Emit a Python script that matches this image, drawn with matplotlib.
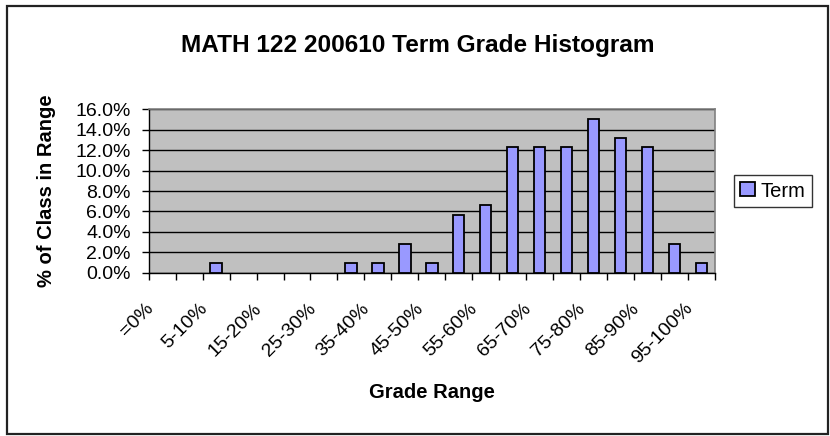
import matplotlib
matplotlib.use("Agg")
import matplotlib.pyplot as plt
from matplotlib.transforms import ScaledTranslation
from matplotlib.patches import Rectangle, Patch

plt.rcParams['font.family'] = ['Liberation Sans', 'DejaVu Sans']

categories = ["=0%", "0-5%", "5-10%", "10-15%", "15-20%", "20-25%", "25-30%",
              "30-35%", "35-40%", "40-45%", "45-50%", "50-55%", "55-60%",
              "60-65%", "65-70%", "70-75%", "75-80%", "80-85%", "85-90%",
              "90-95%", "95-100%"]
term_pct = [0.0, 0.0, 0.94, 0.0, 0.0, 0.0, 0.0,
            0.94, 0.94, 2.83, 0.94, 5.66, 6.60,
            12.26, 12.26, 12.26, 15.09, 13.21, 12.26,
            2.83, 0.94]
y_ticks = [0, 2, 4, 6, 8, 10, 12, 14, 16]
y_tick_labels = ["0.0%", "2.0%", "4.0%", "6.0%", "8.0%", "10.0%", "12.0%", "14.0%", "16.0%"]

W, H = 830, 436
DPI = 100
fig = plt.figure(figsize=(W / DPI, H / DPI), dpi=DPI)
fig.patch.set_facecolor("white")

L, R, T, B = 148.7, 715.0, 109.3, 272.7
ax = fig.add_axes([L / W, 1 - B / H, (R - L) / W, (B - T) / H])
ax.set_facecolor("#C0C0C0")

x = list(range(len(categories)))
lws = [1.3 if v > 0 else 0 for v in term_pct]
ax.bar(x, term_pct, width=0.42, color="#9999FF", edgecolor="black",
       linewidth=lws, zorder=3)

ax.set_xlim(-0.5, len(categories) - 0.5)
ax.set_ylim(0, 16)
ax.set_yticks(y_ticks)
ax.set_yticklabels(y_tick_labels, fontsize=14)
ax.yaxis.grid(True, color="black", linewidth=1.0, zorder=1)
ax.set_axisbelow(True)
ax.tick_params(axis="y", direction="out", length=5, width=1, pad=8, colors="black")

# x ticks: labels every other category, tick marks at category boundaries
ax.set_xticks(x[::2])
ax.set_xticklabels(categories[::2], fontsize=14, rotation=45, ha="right",
                   va="center", rotation_mode="anchor")
ax.set_xticks([i - 0.5 for i in range(len(categories) + 1)], minor=True)
ax.tick_params(axis="x", which="major", length=0, pad=24)
ax.tick_params(axis="x", which="minor", direction="out", length=5, width=1)
off = ScaledTranslation(-11 / DPI, 0, fig.dpi_scale_trans)
for lab in ax.get_xticklabels():
    lab.set_transform(lab.get_transform() + off)

for s in ["top", "right"]:
    ax.spines[s].set_color("#808080")
    ax.spines[s].set_linewidth(1.2)
for s in ["left", "bottom"]:
    ax.spines[s].set_color("black")
    ax.spines[s].set_linewidth(1.0)

fig.text(417.5 / W, 1 - 51.7 / H, "MATH 122 200610 Term Grade Histogram",
         fontsize=17.6, fontweight="bold", ha="center", va="baseline")
fig.text(432 / W, 1 - 398 / H, "Grade Range", fontsize=14.5, fontweight="bold",
         ha="center", va="baseline")
fig.text(47 / W, 1 - 191 / H, "% of Class in Range", fontsize=14.5,
         fontweight="bold", ha="center", va="center", rotation=90)

handle = Patch(facecolor="#9999FF", edgecolor="black", linewidth=1.3)
leg = fig.legend([handle], ["Term"], loc="center",
                 bbox_to_anchor=(773 / W, 1 - 191 / H),
                 fontsize=14.5, frameon=True, fancybox=False, shadow=False,
                 handlelength=0.7, handleheight=0.7, handletextpad=0.3,
                 borderpad=0.3, borderaxespad=0)
leg.get_frame().set_edgecolor("black")
leg.get_frame().set_linewidth(1.0)

fig.patches.append(Rectangle((7 / W, 1 - 434 / H), (828 - 7) / W, (434 - 6) / H,
                             transform=fig.transFigure, fill=False,
                             edgecolor="#222222", linewidth=1.6))

fig.savefig("out.png", dpi=DPI)
